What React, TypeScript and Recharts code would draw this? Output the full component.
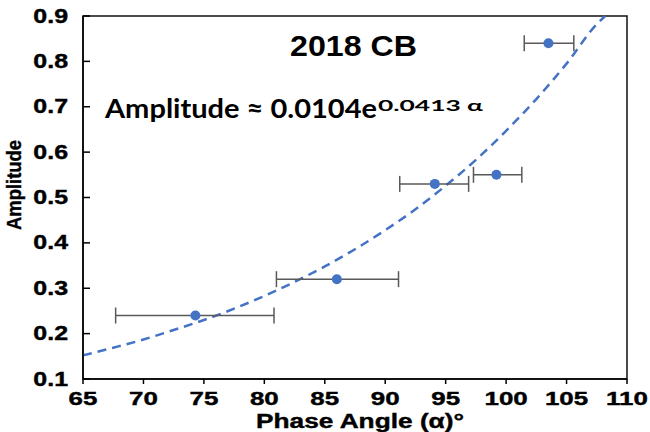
import React from 'react';
import {
  ComposedChart, Scatter, Line, XAxis, YAxis, ErrorBar, ReferenceArea,
} from 'recharts';

const phaseAngle = [74.3, 86.0, 94.1, 99.2, 103.5];
const amplitude = [0.24, 0.32, 0.53, 0.55, 0.84];
const errLow = [6.6, 5.0, 2.9, 1.9, 2.0];
const errHigh = [6.5, 5.1, 2.8, 2.1, 2.1];

// dashed exponential fit
const fitAngle = [65, 67.5, 70, 72.5, 75, 77.5, 80, 82.5, 85, 87.5, 90, 92.5, 95, 97.5, 100, 102.5, 105, 107.5, 108.2];
const fitAmp = [0.152, 0.169, 0.187, 0.208, 0.23, 0.255, 0.283, 0.314, 0.348, 0.386, 0.428, 0.474, 0.526, 0.583, 0.647, 0.717, 0.795, 0.882, 0.9];

const xTicks = [65, 70, 75, 80, 85, 90, 95, 100, 105, 110];
const yTicks = [0.1, 0.2, 0.3, 0.4, 0.5, 0.6, 0.7, 0.8, 0.9];

const TITLE = '2018 CB';
const EQ_MAIN = 'Amplitude \u2248 0.0104e';
const EQ_SUP = '0.0413 \u03b1';
const X_TITLE = 'Phase Angle (\u03b1)\u00b0';
const Y_TITLE = 'Amplitude';

const BLUE = '#4472C4';
const FONT = '"Liberation Sans", Arial, sans-serif';

const points = phaseAngle.map((x, i) => ({ x, y: amplitude[i], err: [errLow[i], errHigh[i]] }));
const fit = fitAngle.map((x, i) => ({ x, y: fitAmp[i] }));

const PLOT_LEFT = 83;

const YTick = ({ y, payload }: any) => (
  <text
    transform={`translate(${PLOT_LEFT - 15},${y + 6.5}) scale(1.28,1)`}
    textAnchor="end" fontFamily={FONT} fontWeight="bold" fontSize={19.5}
    fill="#000" stroke="#000" strokeWidth={0.4}
  >
    {payload.value.toFixed(1)}
  </text>
);

const XTick = ({ x, y, payload }: any) => (
  <text
    transform={`translate(${x},${y + 19}) scale(1.4,1)`}
    textAnchor="middle" fontFamily={FONT} fontWeight="bold" fontSize={18.5}
    fill="#000" stroke="#000" strokeWidth={0.4}
  >
    {payload.value}
  </text>
);

export default function App() {
  return (
    <div style={{ position: 'absolute', left: 0, top: 0, width: 650, height: 432, background: '#fff' }}>
      <ComposedChart width={650} height={432} margin={{ top: 16, right: 23, bottom: 0, left: 0 }}>
        <XAxis
          dataKey="x" type="number" domain={[65, 110]} ticks={xTicks} interval={0}
          height={53} tickSize={5} tickMargin={2}
          axisLine={{ stroke: '#000', strokeWidth: 1.5 }}
          tickLine={{ stroke: '#000', strokeWidth: 1.5 }}
          tick={<XTick />}
        />
        {/* negative tickSize puts the y ticks inside the plot */}
        <YAxis
          dataKey="y" type="number" domain={[0.1, 0.9]} ticks={yTicks} interval={0}
          width={83} tickSize={-7} tickMargin={0}
          tickLine={{ stroke: '#000', strokeWidth: 1.5 }}
          axisLine={{ stroke: '#000', strokeWidth: 1.5 }}
          tick={<YTick />}
        />
        <ReferenceArea x1={65} x2={110} y1={0.1} y2={0.9} fill="none" stroke="#111" strokeWidth={1.5} />
        <Line
          data={fit} dataKey="y" type="monotone" stroke={BLUE} strokeWidth={2.5}
          strokeDasharray="9 6" dot={false} activeDot={false} isAnimationActive={false}
        />
        <Scatter data={points} dataKey="y" fill={BLUE} isAnimationActive={false}
          shape={(p: any) => <circle cx={p.cx} cy={p.cy} r={5} fill={BLUE} />}
        >
          <ErrorBar dataKey="err" direction="x" width={8} stroke="#595959" strokeWidth={1.5} isAnimationActive={false} />
        </Scatter>
      </ComposedChart>
      <svg width={650} height={432} style={{ position: 'absolute', left: 0, top: 0, pointerEvents: 'none' }}>
        <text x={290} y={56} fontFamily={FONT} fontWeight="bold" fontSize={29} textLength={127} lengthAdjust="spacingAndGlyphs" fill="#000">
          {TITLE}
        </text>
        <text x={105} y={118} fontFamily="Lato, sans-serif" fontWeight="bold" fontSize={27} textLength={272} lengthAdjust="spacingAndGlyphs" fill="#000">
          {EQ_MAIN}
        </text>
        <text x={378} y={111} fontFamily="Lato, sans-serif" fontWeight="bold" fontSize={15} textLength={105} lengthAdjust="spacingAndGlyphs" fill="#000">
          {EQ_SUP}
        </text>
        <text x={360} y={428} textAnchor="middle" fontFamily={FONT} fontWeight="bold" fontSize={20} textLength={208} lengthAdjust="spacingAndGlyphs"
          fill="#000" stroke="#000" strokeWidth={0.4}>
          {X_TITLE}
        </text>
        <text transform="translate(21,185) rotate(-90)" textAnchor="middle" fontFamily={FONT} fontWeight="bold" fontSize={21} textLength={90} lengthAdjust="spacingAndGlyphs"
          fill="#000" stroke="#000" strokeWidth={0.4}>
          {Y_TITLE}
        </text>
      </svg>
    </div>
  );
}
